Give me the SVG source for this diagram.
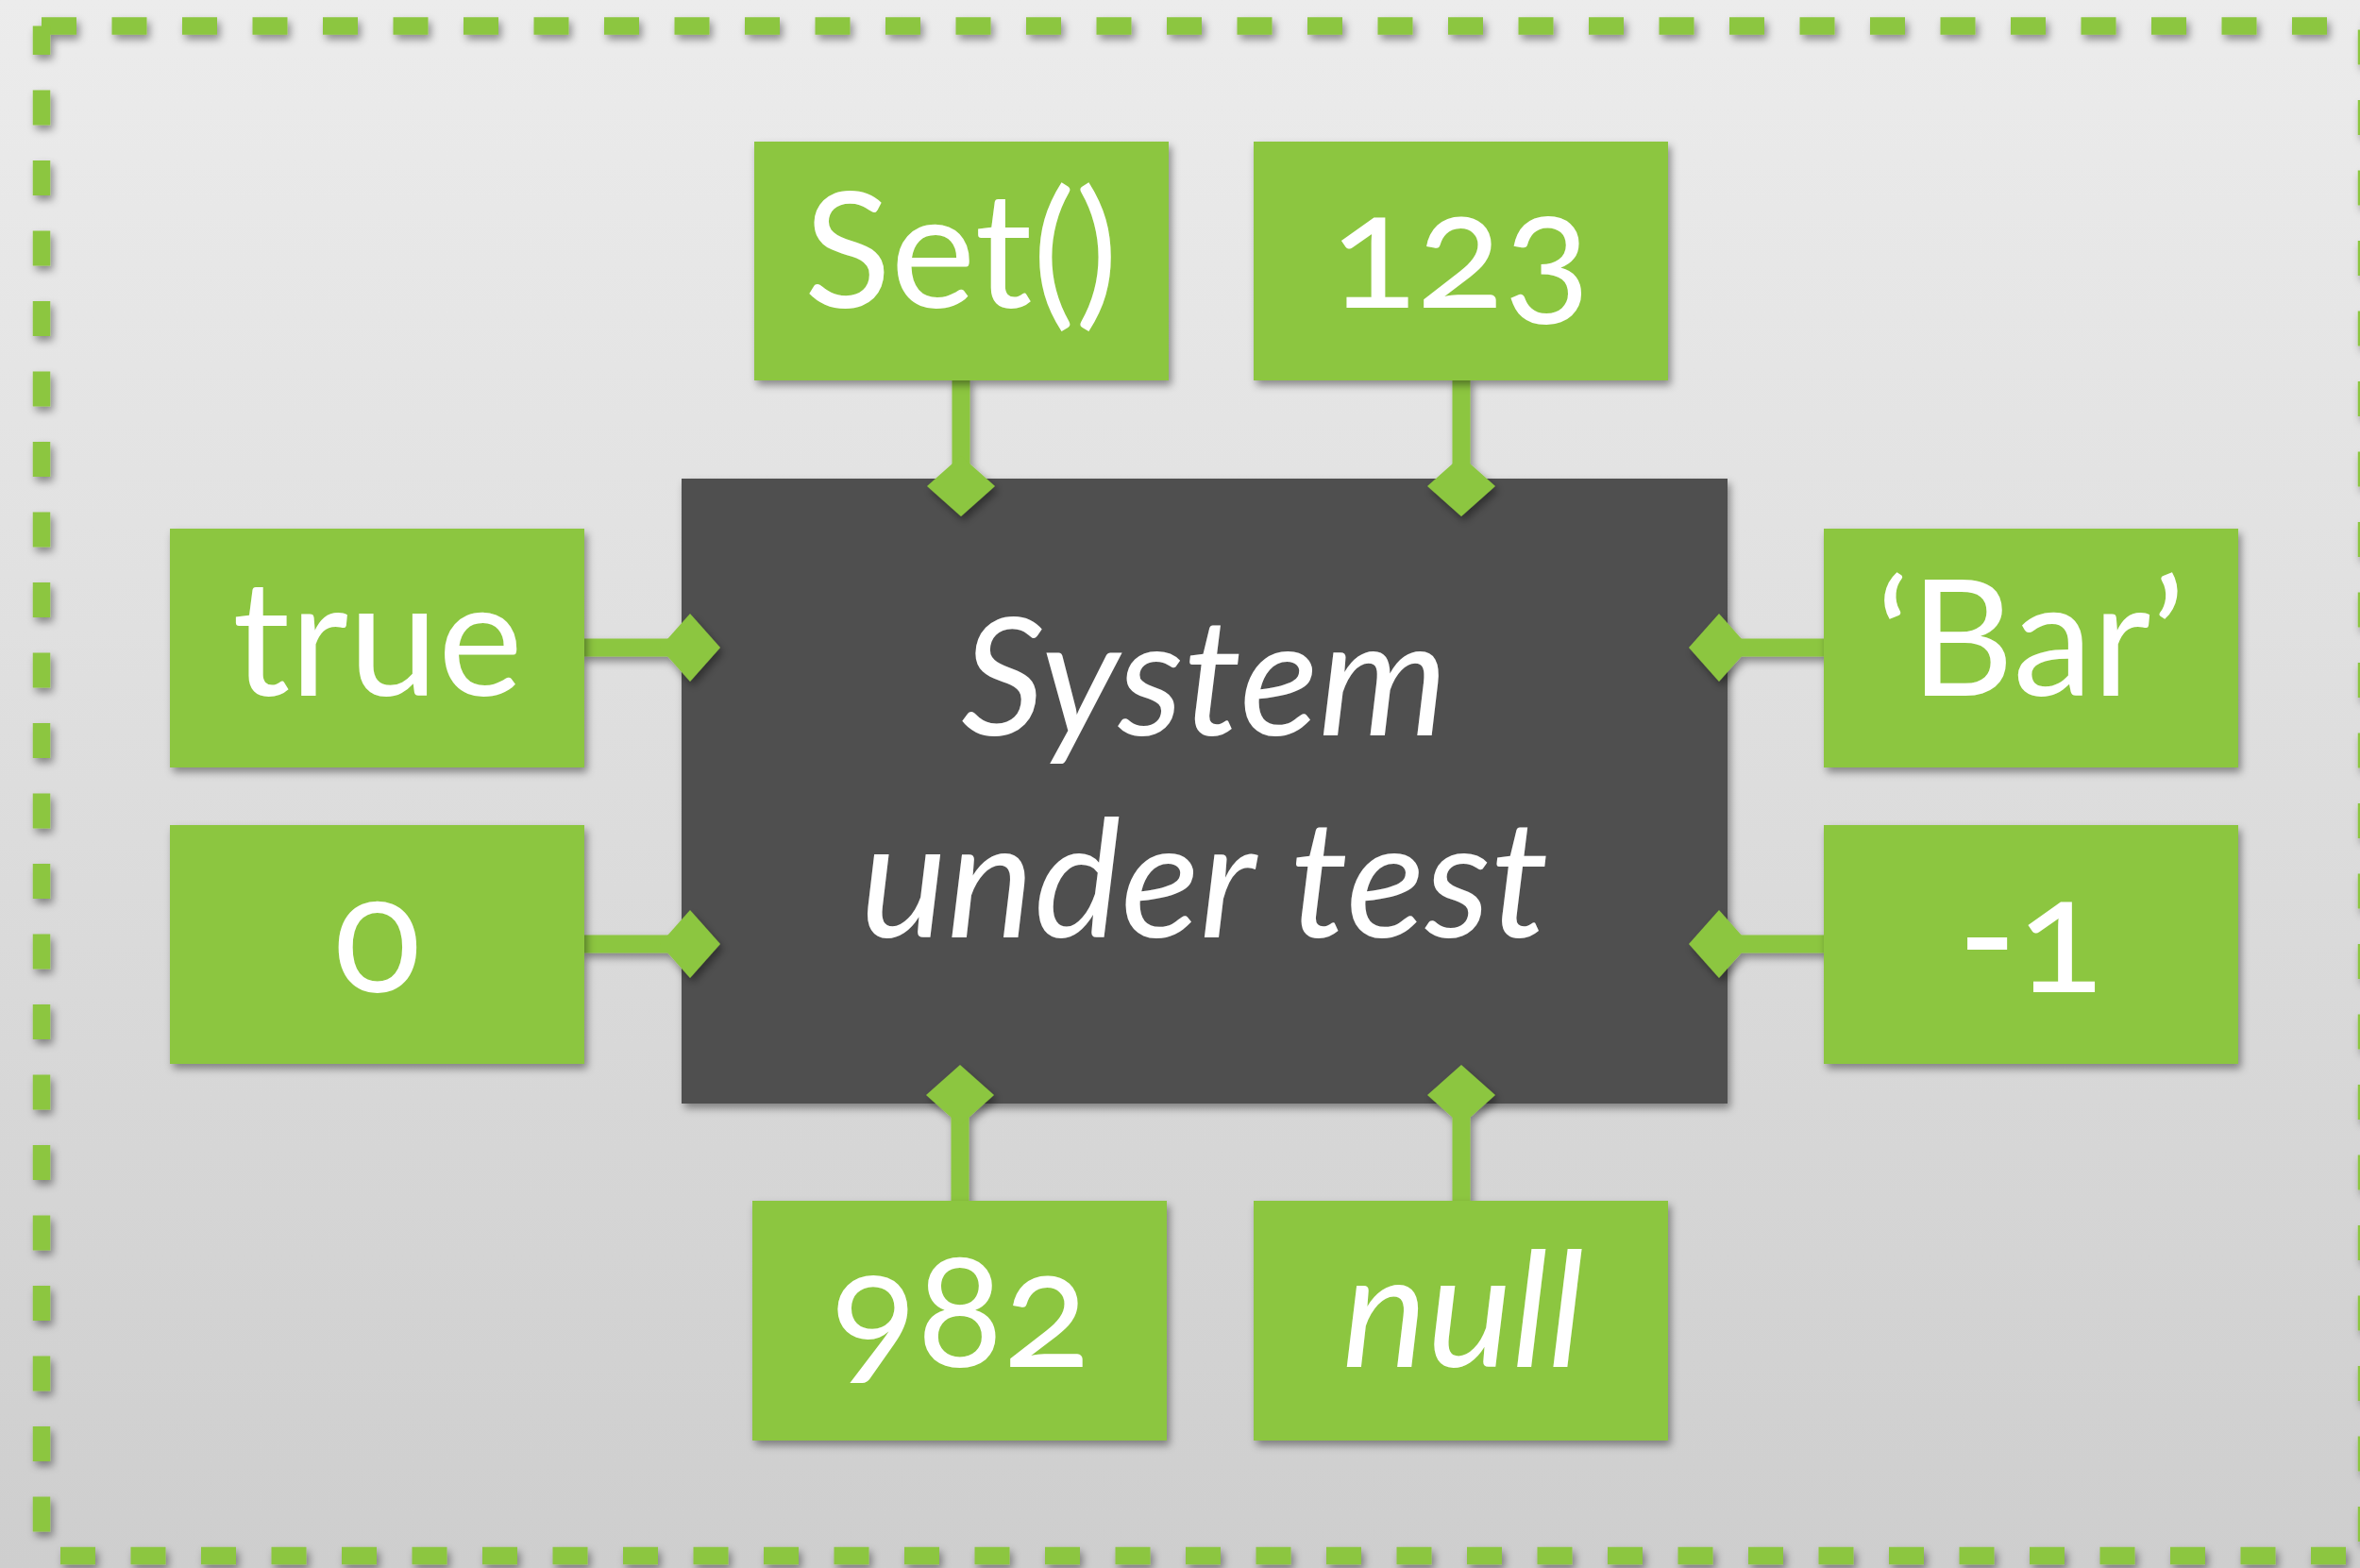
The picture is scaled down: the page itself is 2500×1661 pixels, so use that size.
<svg xmlns="http://www.w3.org/2000/svg" width="2500" height="1661" viewBox="0 0 2500 1661">
  <defs>
    <linearGradient id="bg" x1="0" y1="0" x2="0" y2="1">
      <stop offset="0" stop-color="#ececec"/>
      <stop offset="1" stop-color="#cecece"/>
    </linearGradient>
    <filter id="shadow" x="-10%" y="-10%" width="130%" height="130%">
      <feDropShadow dx="3" dy="5" stdDeviation="4" flood-color="#000" flood-opacity="0.4"/>
    </filter>
    <style>
      .frame { fill: none; stroke: #8cc63f; stroke-width: 18.5; stroke-dasharray: 37 37.5; }
      .box { fill: #8cc63f; }
      .core { fill: #505050; }
      .label { fill: #fff; font-family: Lato, "Open Sans", sans-serif; font-weight: 400; font-size: 170px; text-anchor: middle; font-variant-numeric: oldstyle-nums; }
      .ital { font-style: italic; }
      .core-label { font-size: 174px; }
      .link line { stroke: #8cc63f; stroke-width: 19; }
      .link polygon { fill: #8cc63f; }
    </style>
  </defs>

  <!-- background -->
  <rect width="2500" height="1661" fill="url(#bg)"/>

  <!-- dashed outer frame -->
  <g id="frame" filter="url(#shadow)">
    <line class="frame" x1="44" y1="27.5" x2="2507" y2="27.5"/>
    <line class="frame" x1="44" y1="27.5" x2="44" y2="1648" stroke-dashoffset="6.5"/>
    <line class="frame" x1="2507" y1="1633" x2="2507" y2="27.5"/>
    <line class="frame" x1="2485" y1="1648" x2="44" y2="1648"/>
  </g>

  <!-- central system -->
  <g id="sut" filter="url(#shadow)">
    <rect class="core" x="722" y="507" width="1108" height="662"/>
    <text class="label ital core-label" x="1276" y="779">System</text>
    <text class="label ital core-label" x="1276" y="993">under test</text>
  </g>

  <!-- connectors: bar from value box to a diamond on the system edge -->
  <g id="connectors" class="link" filter="url(#shadow)">
    <line x1="1018" y1="400" x2="1018" y2="515"/>
    <polygon points="1018,483 1054,515 1018,547 982,515"/>
    <line x1="1548" y1="400" x2="1548" y2="515"/>
    <polygon points="1548,483 1584,515 1548,547 1512,515"/>

    <line x1="616" y1="686" x2="731" y2="686"/>
    <polygon points="699,686 731,650 763,686 731,722"/>
    <line x1="616" y1="1000" x2="731" y2="1000"/>
    <polygon points="699,1000 731,964 763,1000 731,1036"/>

    <line x1="1821" y1="686" x2="1935" y2="686"/>
    <polygon points="1789,686 1821,650 1853,686 1821,722"/>
    <line x1="1821" y1="1000" x2="1935" y2="1000"/>
    <polygon points="1789,1000 1821,964 1853,1000 1821,1036"/>

    <line x1="1017" y1="1160" x2="1017" y2="1275"/>
    <polygon points="1017,1128 1053,1160 1017,1192 981,1160"/>
    <line x1="1548" y1="1160" x2="1548" y2="1275"/>
    <polygon points="1548,1128 1584,1160 1548,1192 1512,1160"/>
  </g>

  <!-- value boxes -->
  <g id="node-set" filter="url(#shadow)">
    <rect class="box" x="799" y="150" width="439" height="253"/>
    <text class="label" x="1018" y="326">Set()</text>
  </g>
  <g id="node-123" filter="url(#shadow)">
    <rect class="box" x="1328" y="150" width="439" height="253"/>
    <text class="label" x="1547" y="326">123</text>
  </g>
  <g id="node-true" filter="url(#shadow)">
    <rect class="box" x="180" y="560" width="439" height="253"/>
    <text class="label" x="400" y="737">true</text>
  </g>
  <g id="node-zero" filter="url(#shadow)">
    <rect class="box" x="180" y="874" width="439" height="253"/>
    <text class="label" x="400" y="1051">0</text>
  </g>
  <g id="node-bar" filter="url(#shadow)">
    <rect class="box" x="1932" y="560" width="439" height="253"/>
    <text class="label" x="2151" y="737">‘Bar’</text>
  </g>
  <g id="node-minus-one" filter="url(#shadow)">
    <rect class="box" x="1932" y="874" width="439" height="253"/>
    <text class="label" x="2151" y="1051">-1</text>
  </g>
  <g id="node-982" filter="url(#shadow)">
    <rect class="box" x="797" y="1272" width="439" height="254"/>
    <text class="label" x="1017" y="1448">982</text>
  </g>
  <g id="node-null" filter="url(#shadow)">
    <rect class="box" x="1328" y="1272" width="439" height="254"/>
    <text class="label ital" x="1550" y="1448">null</text>
  </g>
</svg>
